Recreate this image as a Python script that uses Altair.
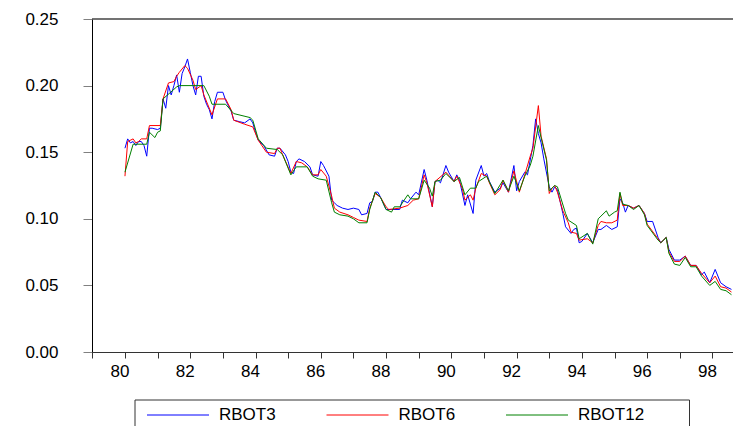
import altair as alt
import pandas as pd

# Monthly bill-rate series, 1980M1 onwards; month index counted from 1980M1
rbot3_month = [0, 1, 2, 3, 4, 5, 6, 7, 8, 9, 10, 12, 13, 14, 15, 16, 17, 18, 19, 20,
               21, 22, 23, 24, 25, 26, 27, 28, 29, 30, 31, 32, 33, 34, 36, 37, 39, 40, 42, 44,
               46, 47, 48, 49, 51, 53, 55, 56, 57, 59, 60, 61, 62, 63, 64, 66, 68, 69, 71, 72,
               73, 75, 76, 77, 78, 80, 82, 84, 86, 87, 89, 90, 91, 92, 93, 94, 96, 98, 101, 102,
               104, 105, 107, 108, 110, 111, 113, 114, 115, 116, 118, 119, 121, 122, 123, 125, 126, 128, 129, 131,
               132, 133, 134, 136, 138, 139, 141, 143, 144, 145, 147, 148, 150, 151, 152, 153, 154, 156, 157, 158,
               159, 161, 162, 164, 165, 166, 167, 168, 170, 172, 174, 175, 177, 179, 181, 182, 183, 184, 185, 187,
               189, 191, 192, 194, 196, 197, 199, 200, 202, 204, 206, 208, 210, 212, 213, 215, 217, 219, 221, 223]
rbot3_value = [.153, .160, .157, .158, .155, .158, .158, .155, .147, .168, .168, .167, .168, .190, .183, .200, .193, .200, .208, .195,
               .209, .214, .220, .210, .200, .193, .207, .207, .192, .186, .182, .175, .188, .195, .195, .189, .181, .174, .173, .172,
               .175, .172, .165, .159, .155, .148, .147, .153, .153, .148, .143, .135, .134, .143, .145, .143, .139, .133, .132, .143,
               .140, .132, .114, .112, .110, .108, .107, .108, .107, .103, .104, .112, .113, .120, .120, .116, .107, .107, .107, .114,
               .112, .115, .120, .118, .137, .129, .109, .128, .129, .127, .140, .135, .128, .133, .129, .110, .118, .104, .129, .140,
               .132, .134, .128, .120, .123, .127, .120, .140, .121, .128, .135, .133, .155, .175, .164, .157, .145, .124, .120, .124,
               .122, .104, .094, .089, .092, .093, .082, .083, .089, .082, .092, .092, .095, .092, .094, .115, .112, .105, .110, .108,
               .110, .104, .098, .098, .086, .082, .086, .077, .069, .069, .072, .065, .065, .058, .060, .052, .062, .052, .049, .047]

rbot6_month = [0, 1, 3, 4, 5, 6, 8, 9, 13, 14, 16, 18, 19, 20, 22, 23, 25, 26, 28, 29,
               32, 34, 37, 39, 40, 44, 47, 49, 52, 55, 56, 57, 58, 61, 63, 65, 67, 69, 71, 72,
               74, 76, 77, 79, 82, 84, 86, 89, 90, 92, 94, 96, 97, 101, 104, 106, 108, 110, 111, 113,
               114, 118, 121, 122, 124, 125, 127, 128, 129, 131, 133, 134, 136, 138, 139, 141, 143, 145, 147, 149,
               150, 152, 153, 155, 156, 157, 158, 159, 161, 163, 164, 166, 167, 170, 172, 174, 175, 177, 179, 181,
               182, 183, 185, 187, 189, 191, 192, 196, 197, 199, 200, 202, 204, 206, 208, 210, 212, 215, 217, 219,
               221, 223]
rbot6_value = [.132, .158, .160, .157, .158, .160, .160, .170, .170, .190, .202, .203, .207, .210, .215, .213, .204, .197, .200, .193,
               .178, .190, .190, .182, .174, .171, .169, .159, .150, .149, .153, .153, .148, .134, .143, .142, .139, .133, .133, .137,
               .132, .117, .108, .105, .103, .101, .099, .098, .108, .119, .116, .109, .107, .108, .110, .114, .115, .133, .127, .109,
               .128, .135, .128, .132, .123, .114, .118, .114, .123, .134, .132, .127, .118, .122, .129, .120, .136, .120, .133, .147,
               .153, .185, .162, .145, .119, .123, .125, .120, .106, .097, .090, .089, .084, .085, .082, .095, .098, .097, .097, .099,
               .119, .110, .110, .108, .110, .104, .096, .085, .082, .086, .075, .068, .068, .072, .065, .065, .059, .052, .057, .049,
               .048, .045]

rbot12_month = [0, 3, 8, 9, 11, 12, 13, 14, 19, 20, 29, 31, 32, 37, 40, 46, 47, 49, 52, 56,
                58, 61, 63, 67, 69, 71, 74, 76, 77, 79, 82, 84, 86, 89, 90, 92, 94, 96, 98, 99,
                101, 104, 105, 108, 110, 112, 113, 114, 116, 118, 121, 123, 125, 127, 129, 130, 133, 136, 139, 141,
                143, 145, 147, 149, 150, 152, 153, 155, 156, 158, 159, 162, 163, 166, 167, 170, 172, 174, 175, 177,
                178, 180, 181, 182, 183, 185, 187, 189, 191, 192, 196, 197, 199, 200, 202, 204, 206, 208, 210, 212,
                215, 217, 219, 221, 223]
rbot12_value = [.135, .156, .156, .165, .161, .165, .166, .190, .199, .200, .200, .192, .186, .186, .179, .176, .174, .160, .153, .152,
                .148, .133, .139, .139, .132, .130, .129, .112, .105, .103, .102, .100, .097, .097, .107, .120, .116, .107, .105, .109,
                .109, .118, .115, .115, .129, .123, .117, .128, .129, .134, .128, .131, .118, .123, .123, .128, .132, .119, .129, .121,
                .132, .121, .132, .140, .147, .170, .161, .144, .121, .125, .124, .104, .099, .095, .085, .089, .081, .100, .102, .106,
                .102, .105, .106, .120, .111, .110, .107, .110, .103, .095, .084, .082, .086, .074, .066, .065, .071, .064, .064, .057,
                .050, .053, .047, .046, .043]

series_names = ["RBOT3", "RBOT6", "RBOT12"]
series_colors = ["#0000FF", "#FF0000", "#008000"]
series_months = [rbot3_month, rbot6_month, rbot12_month]
series_values = [rbot3_value, rbot6_value, rbot12_value]

year_ticks = list(range(79, 99))
y_ticks = [0.0, 0.05, 0.10, 0.15, 0.20, 0.25]

FONT = "Liberation Sans"
W, H = 641, 333

x_scale = alt.Scale(domain=[78.99, 98.63], nice=False, zero=False)
y_scale = alt.Scale(domain=[0, 0.25], nice=False, zero=False)

x_axis = alt.Axis(values=year_ticks, title=None, grid=False,
                  labelExpr="datum.value % 2 == 0 ? format(datum.value, 'd') : ''",
                  tickSize=6, tickColor="#333333", domainColor="#333333",
                  labelPadding=5, labelOffset=-5.5, labelFont=FONT, labelFontSize=17,
                  labelColor="black", labelFlush=False, labelOverlap=False)
y_axis = alt.Axis(values=y_ticks, format=".2f", title=None, grid=False,
                  tickSize=9, tickColor="#808080", domainColor="black",
                  labelPadding=25, labelFont=FONT, labelFontSize=17, labelColor="black",
                  labelFlush=False, labelOverlap=False)

layers = []
for name, color, months, values in zip(series_names, series_colors, series_months, series_values):
    df = pd.DataFrame({"year": [80 + m / 12 for m in months], "rate": values, "series": name})
    layers.append(alt.Chart(df).mark_line(color=color, strokeWidth=1, clip=True).encode(
        x=alt.X("year:Q", scale=x_scale, axis=x_axis),
        y=alt.Y("rate:Q", scale=y_scale, axis=y_axis),
        order="year:Q"))

anchor = pd.DataFrame({"k": [0]})

# frame line along the top of the plot
top_line = alt.Chart(anchor).mark_rule(color="#444444", strokeWidth=1.5).encode(
    x=alt.value(0), x2=alt.value(W), y=alt.value(0))

# legend box below the axis
legend_box = alt.Chart(anchor).mark_rect(fill="white", stroke="#333333", strokeWidth=1).encode(
    x=alt.value(43), x2=alt.value(597.5), y=alt.value(381), y2=alt.value(445))

legend_layers = []
for i, (name, color) in enumerate(zip(series_names, series_colors)):
    x0 = 55 + i * 179.5
    legend_layers.append(alt.Chart(anchor).mark_rule(color=color, strokeWidth=1).encode(
        x=alt.value(x0), x2=alt.value(x0 + 62), y=alt.value(396)))
    legend_layers.append(alt.Chart(anchor).mark_text(
        align="left", baseline="middle", font=FONT, fontSize=17, color="black").encode(
        x=alt.value(x0 + 72), y=alt.value(396), text=alt.value(name)))

chart = alt.layer(*layers, top_line, legend_box, *legend_layers).properties(
    width=W, height=H,
    padding={"left": 92, "top": 19, "right": 0, "bottom": 74},
    autosize=alt.AutoSizeParams(type="none"),
    background="white",
).configure_view(stroke=None)

chart.save("out.html", embed_options={"renderer": "svg", "actions": False})
